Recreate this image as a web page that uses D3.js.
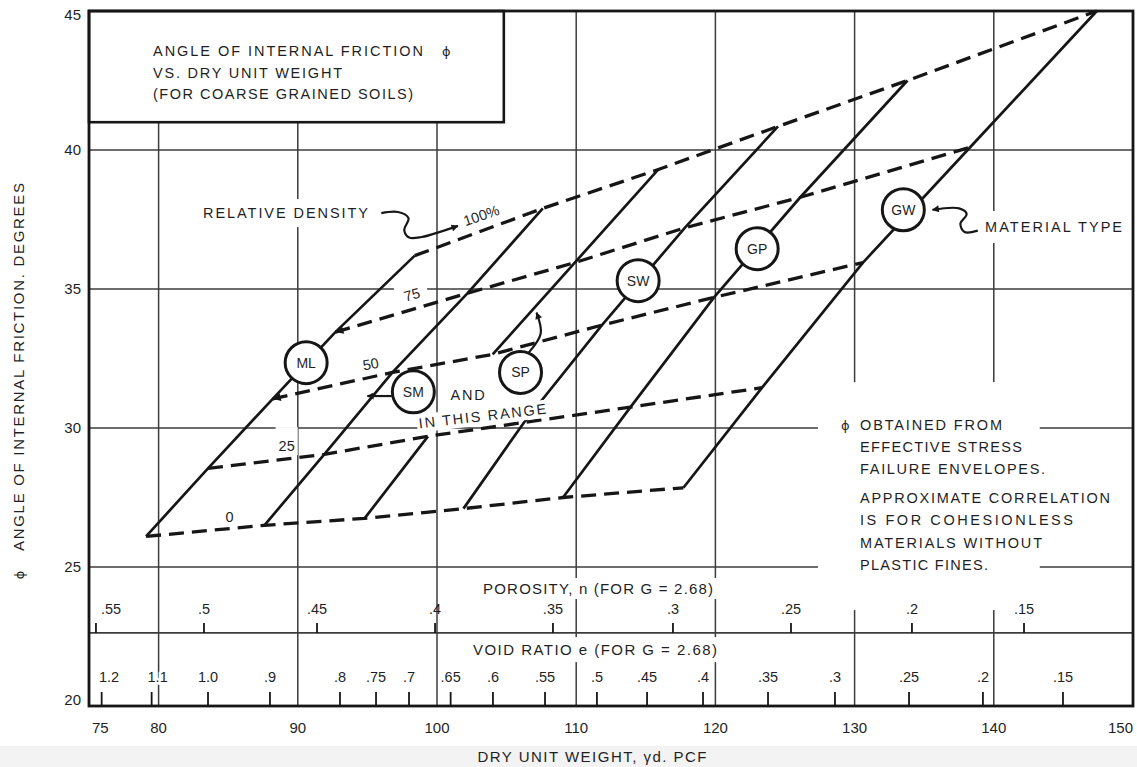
<!DOCTYPE html>
<html>
<head>
<meta charset="utf-8">
<script src="https://cdn.jsdelivr.net/npm/d3@7"></script>
<style>
  html, body { margin: 0; padding: 0; background: #ffffff; }
  svg { display: block; font-family: "Liberation Sans", Arial, Helvetica, sans-serif; }
  .phi { font-family: "DejaVu Sans", sans-serif; }
</style>
</head>
<body>
<svg id="chart" width="1137" height="767"></svg>
<script>
// ---------------- data ----------------
const materials = ["ML", "SM", "SP", "SW", "GP", "GW"];
const densityLevels = ["0", "25", "50", "75", "100%"];

// dry unit weight (pcf) at relative density 0, 25, 50, 75, 100 %
const weightML = [79.1, 83.55, 88.2, 92.7, 98.4];
const weightSM = [87.6, 91.9, 96.8, 102.2, 107.6];
const weightSP = [94.8, 99.35, 104.0, 109.9, 115.9];
const weightSW = [101.9, 106.25, 111.85, 117.8, 124.5];
const weightGP = [109.05, 113.9, 119.9, 126.1, 133.8];
const weightGW = [117.7, 123.35, 130.6, 138.3, 147.4];

// angle of internal friction (deg) at relative density 0, 25, 50, 75, 100 %
const phiML = [26.1, 28.55, 31.05, 33.45, 36.2];
const phiSM = [26.5, 29.05, 32.0, 34.85, 37.9];
const phiSP = [26.75, 29.7, 32.65, 35.95, 39.3];
const phiSW = [27.1, 30.2, 33.7, 37.2, 40.85];
const phiGP = [27.5, 30.75, 34.7, 38.3, 42.5];
const phiGW = [27.85, 31.45, 35.95, 40.1, 45.0];

// axis ticks
const weightTicks = [75, 80, 90, 100, 110, 120, 130, 140, 150];
const weightGrid = [80, 90, 100, 110, 120, 130, 140];
const phiTicks = [20, 25, 30, 35, 40, 45];

// porosity n and void ratio e scales (G = 2.68), placed along dry unit weight
const porosityLabels = [".55", ".5", ".45", ".4", ".35", ".3", ".25", ".2", ".15"];
const porosityAtWeight = [75.5, 83.26, 91.38, 99.86, 108.33, 116.95, 125.43, 134.12, 142.17];
const voidLabels = ["1.2", "1.1", "1.0", ".9", ".8", ".75", ".7", ".65", ".6", ".55", ".5", ".45", ".4", ".35", ".3", ".25", ".2", ".15"];
const voidAtWeight = [75.91, 79.5, 83.55, 88.0, 93.03, 95.62, 97.99, 100.98, 104.02, 107.76, 111.49, 115.09, 119.11, 123.78, 128.59, 133.91, 139.22, 144.97];

// ---------------- annotation anchors (pcf, deg) ----------------
const codeAnchors = [[90.6, 32.35], [98.3, 31.3], [106.0, 32.0], [114.45, 35.3], [123.0, 36.45], [133.5, 37.85]];
const densityTagAnchors = [[85.1, 26.8], [89.2, 29.35], [95.3, 32.3], [98.3, 34.8], [103.3, 37.65]];
const densityTagAngles = [0, 0, -10, -15, -19];

// ---------------- layout ----------------
const svg = d3.select("#chart");
const x = d3.scaleLinear().domain([75, 150]).range([89, 1133]);
const y = d3.scaleLinear().domain([20, 45]).range([706, 11]);

const INK = "#161616";
const GRID = "#3c3c3c";
const TEXT = "#1f1f1f";

const table = materials.map((code, i) => ({
  code,
  weight: [weightML, weightSM, weightSP, weightSW, weightGP, weightGW][i],
  phi: [phiML, phiSM, phiSP, phiSW, phiGP, phiGW][i],
  anchor: codeAnchors[i]
}));

const defs = svg.append("defs");
defs.append("marker")
  .attr("id", "head")
  .attr("viewBox", "0 0 10 10")
  .attr("refX", 9).attr("refY", 5)
  .attr("markerWidth", 10).attr("markerHeight", 7)
  .attr("markerUnits", "userSpaceOnUse")
  .attr("orient", "auto")
  .append("path").attr("d", "M0,0 L10,5 L0,10 z").attr("fill", INK);
defs.append("marker")
  .attr("id", "tail")
  .attr("viewBox", "0 0 10 10")
  .attr("refX", 10).attr("refY", 5)
  .attr("markerWidth", 11).attr("markerHeight", 8)
  .attr("markerUnits", "userSpaceOnUse")
  .attr("orient", "auto-start-reverse")
  .append("path").attr("d", "M0,0 L10,5 L0,10 z").attr("fill", INK);

// page background and the pale strip at the bottom edge
svg.append("rect").attr("width", 1137).attr("height", 767).attr("fill", "#ffffff");
svg.append("rect").attr("x", 0).attr("y", 746).attr("width", 1137).attr("height", 21).attr("fill", "#f3f3f3");

// text helper with a white knock-out box behind it; pad = [side, top, bottom]
function label(parent, str, opts) {
  const g = parent.append("g")
    .attr("transform", `translate(${opts.x},${opts.y}) rotate(${opts.angle || 0})`);
  const bg = g.append("rect").attr("fill", "#ffffff");
  const t = g.append("text")
    .attr("x", 0).attr("y", 0)
    .attr("fill", TEXT)
    .attr("font-size", opts.size || 14)
    .attr("text-anchor", opts.anchor || "start")
    .text(str);
  if (opts.length) t.attr("textLength", opts.length).attr("lengthAdjust", "spacing");
  if (opts.knock) {
    const b = t.node().getBBox();
    const p = opts.pad || [3, 2, 2];
    bg.attr("x", b.x - p[0]).attr("y", b.y - p[1])
      .attr("width", b.width + 2 * p[0]).attr("height", b.height + p[1] + p[2]);
  } else {
    bg.remove();
  }
  return g;
}

// ---------------- grid ----------------
const grid = svg.append("g");
grid.selectAll("line.v").data(weightGrid).join("line")
  .attr("x1", d => x(d)).attr("x2", d => x(d))
  .attr("y1", y(45)).attr("y2", y(20))
  .attr("stroke", GRID).attr("stroke-width", 1.5);
grid.selectAll("line.h").data(phiTicks.filter(d => d > 20 && d < 45)).join("line")
  .attr("x1", x(75)).attr("x2", x(150))
  .attr("y1", d => y(d)).attr("y2", d => y(d))
  .attr("stroke", GRID).attr("stroke-width", 1.5);

// porosity base line
const porosityBase = y(22.63);
grid.append("line")
  .attr("x1", x(75)).attr("x2", x(150))
  .attr("y1", porosityBase).attr("y2", porosityBase)
  .attr("stroke", GRID).attr("stroke-width", 1.7);

// knock-out for the note block
grid.append("rect")
  .attr("x", x(127.37)).attr("y", y(31.65))
  .attr("width", x(143.3) - x(127.37)).attr("height", y(23.45) - y(31.65))
  .attr("fill", "#ffffff");

// ---------------- porosity and void ratio scales ----------------
const scales = svg.append("g");
scales.selectAll("line.pt").data(porosityAtWeight).join("line")
  .attr("x1", d => x(d)).attr("x2", d => x(d))
  .attr("y1", porosityBase).attr("y2", porosityBase - 10)
  .attr("stroke", INK).attr("stroke-width", 1.8);
scales.selectAll("text.pl").data(porosityLabels).join("text")
  .attr("x", (d, i) => Math.max(x(porosityAtWeight[i]), x(75) + 22))
  .attr("y", porosityBase - 19)
  .attr("text-anchor", "middle")
  .attr("font-size", 14.5).attr("fill", TEXT)
  .text(d => d);

scales.selectAll("line.vt").data(voidAtWeight).join("line")
  .attr("x1", d => x(d)).attr("x2", d => x(d))
  .attr("y1", y(20)).attr("y2", y(20) - 14)
  .attr("stroke", INK).attr("stroke-width", 1.8);
scales.selectAll("text.vl").data(voidLabels).join("text")
  .attr("x", (d, i) => Math.max(x(voidAtWeight[i]), x(75) + 20) + (i === 1 ? 6 : 0))
  .attr("y", y(20) - 24)
  .attr("text-anchor", "middle")
  .attr("font-size", 14.5).attr("fill", TEXT)
  .attr("stroke", "#ffffff").attr("stroke-width", 5).attr("paint-order", "stroke")
  .text(d => d);

label(scales, "POROSITY, n (FOR G = 2.68)", { x: x(111.57), y: y(24.03), anchor: "middle", length: 230, size: 15, knock: true, pad: [5, 2, 2] });
label(scales, "VOID RATIO e (FOR G = 2.68)", { x: x(111.35), y: y(21.83), anchor: "middle", length: 244, size: 15, knock: true, pad: [5, 4, 4] });

// ---------------- relative density curves (dashed) ----------------
const line = d3.line().x(d => x(d[0])).y(d => y(d[1]));
const tags = svg.append("g");
const curves = svg.append("g");

// density tags sit under the curves so their knock-outs only clear the grid
densityLevels.forEach((lev, k) => {
  const a = densityTagAnchors[k];
  label(tags, lev, {
    x: x(a[0]), y: y(a[1]) + 5, angle: densityTagAngles[k], anchor: "middle",
    size: 14.5, knock: lev === "75" || lev === "25",
    pad: lev === "75" ? [8, 3, 3] : [3, 11, 1]
  });
});

densityLevels.forEach((lev, k) => {
  const pts = table.map(t => [t.weight[k], t.phi[k]]);
  const p = curves.append("path")
    .attr("d", line(pts))
    .attr("fill", "none")
    .attr("stroke", INK)
    .attr("stroke-width", 3.3)
    .attr("stroke-dasharray", "15 8");
  // the middle curves start with an arrowhead on the ML line
  if (lev === "50" || lev === "75") p.attr("marker-start", "url(#tail)");
});

// ---------------- material lines (solid) ----------------
const mats = svg.append("g");
table.forEach(t => {
  const pts = t.weight.map((w, k) => [w, t.phi[k]]);
  // the SP line is interrupted between Dr = 25 and 50 % where its note sits
  const breakAfter = t.code === "SP" ? [1] : [];
  const runs = [[pts[0]]];
  for (let k = 1; k < pts.length; k++) {
    if (breakAfter.includes(k - 1)) runs.push([pts[k]]);
    else runs[runs.length - 1].push(pts[k]);
  }
  runs.forEach(r => {
    mats.append("path")
      .attr("d", line(r))
      .attr("fill", "none")
      .attr("stroke", INK)
      .attr("stroke-width", 2.7);
  });
});

// notes inside the chart
const notes = svg.append("g");
label(notes, "AND", { x: x(102.2), y: y(31.0), anchor: "middle", size: 14.5, length: 34, knock: true, pad: [2, 1, 1] });
label(notes, "IN THIS RANGE", { x: x(103.3), y: y(30.25), angle: -6.7, anchor: "middle", size: 14.5, length: 128, knock: true, pad: [2, 1, 1] });

// circled material codes
const codes = svg.append("g");
table.forEach(t => {
  const cx = x(t.anchor[0]), cy = y(t.anchor[1]);
  codes.append("circle")
    .attr("cx", cx).attr("cy", cy).attr("r", 21)
    .attr("fill", "#ffffff").attr("stroke", INK).attr("stroke-width", 3);
  codes.append("text")
    .attr("x", cx).attr("y", cy + 5)
    .attr("text-anchor", "middle")
    .attr("font-size", 14).attr("fill", TEXT)
    .text(t.code);
});

// pointer arrows
const curvy = d3.line().x(d => x(d[0])).y(d => y(d[1])).curve(d3.curveCatmullRom.alpha(0.5));
const arrows = svg.append("g").attr("fill", "none").attr("stroke", INK).attr("stroke-width", 2.2);
arrows.append("path")   // SM -> its line
  .attr("d", line([[96.75, 31.15], [95.0, 31.15]]))
  .attr("marker-end", "url(#head)");
arrows.append("path")   // SP -> its line
  .attr("d", curvy([[106.6, 32.72], [107.45, 33.4], [107.15, 34.15]]))
  .attr("marker-end", "url(#head)");

// "RELATIVE DENSITY" call-out
label(notes, "RELATIVE DENSITY", { x: x(83.19), y: y(37.55), size: 14.5, length: 165, knock: true, pad: [2, 6, 6] });
arrows.append("path")
  .attr("d", curvy([[96.0, 37.73], [97.2, 37.77], [97.95, 37.55], [97.65, 37.12], [98.0, 36.85], [98.9, 36.87], [101.5, 37.27]]))
  .attr("marker-end", "url(#head)");

// "MATERIAL TYPE" call-out
label(notes, "MATERIAL TYPE", { x: x(139.37), y: y(37.05), size: 14.5, length: 137, knock: true, pad: [4, 8, 8] });
arrows.append("path")
  .attr("d", curvy([[138.85, 37.1], [137.9, 37.05], [137.6, 37.35], [138.05, 37.7], [137.5, 37.9], [135.6, 37.85]]))
  .attr("marker-end", "url(#head)");

// note block on the right
const noteLines = ["OBTAINED FROM", "EFFECTIVE STRESS", "FAILURE ENVELOPES.", "APPROXIMATE CORRELATION", "IS FOR COHESIONLESS", "MATERIALS WITHOUT", "PLASTIC FINES."];
const noteLengths = [142, 162, 185, 250, 213, 182, 128];
const noteOffsets = [0, 22.5, 44, 73, 95.5, 118, 140];
const noteX = x(130.39), noteY = y(29.93);
notes.append("rect")
  .attr("x", noteX - 4).attr("y", noteY + 58)
  .attr("width", 262).attr("height", 44)
  .attr("fill", "#ffffff");
notes.append("text")
  .attr("class", "phi")
  .attr("x", noteX - 19).attr("y", noteY)
  .attr("font-size", 13).attr("fill", TEXT)
  .text("\u03D5");
noteLines.forEach((s, i) => {
  notes.append("text")
    .attr("x", noteX).attr("y", noteY + noteOffsets[i])
    .attr("font-size", 14.5).attr("fill", TEXT)
    .attr("textLength", noteLengths[i]).attr("lengthAdjust", "spacing")
    .text(s);
});

// ---------------- title box ----------------
const box = svg.append("g");
box.append("rect")
  .attr("x", x(75)).attr("y", y(45))
  .attr("width", x(104.8) - x(75)).attr("height", y(41) - y(45))
  .attr("fill", "#ffffff").attr("stroke", INK).attr("stroke-width", 2.6);
const tx = x(75) + 64;
[["ANGLE OF INTERNAL FRICTION", 45, 270], ["VS. DRY UNIT WEIGHT", 67, 189], ["(FOR COARSE GRAINED SOILS)", 88, 260]]
  .forEach(([s, dy, len]) => {
    box.append("text")
      .attr("x", tx).attr("y", y(45) + dy)
      .attr("font-size", 14.5).attr("fill", TEXT)
      .attr("textLength", len).attr("lengthAdjust", "spacing")
      .text(s);
  });
box.append("text")
  .attr("class", "phi")
  .attr("x", tx + 289).attr("y", y(45) + 45)
  .attr("font-size", 13).attr("fill", TEXT)
  .text("\u03D5");

// ---------------- frame and axes ----------------
svg.append("rect")
  .attr("x", x(75)).attr("y", y(45))
  .attr("width", x(150) - x(75)).attr("height", y(20) - y(45))
  .attr("fill", "none").attr("stroke", INK).attr("stroke-width", 2.8);

svg.append("g").selectAll("text").data(phiTicks).join("text")
  .attr("x", x(75) - 8)
  .attr("y", d => Math.min(Math.max(y(d), 15), 700) + 5)
  .attr("text-anchor", "end")
  .attr("font-size", 15).attr("fill", TEXT)
  .text(d => d);

svg.append("g").selectAll("text").data(weightTicks).join("text")
  .attr("x", (d, i) => x(d) + (i === 0 ? 3 : 0))
  .attr("y", y(20) + 27)
  .attr("text-anchor", (d, i) => i === 0 ? "start" : (i === weightTicks.length - 1 ? "end" : "middle"))
  .attr("font-size", 15).attr("fill", TEXT)
  .text(d => d);

svg.append("text")
  .attr("x", 592).attr("y", 762)
  .attr("text-anchor", "middle")
  .attr("font-size", 15).attr("fill", TEXT)
  .attr("textLength", 229).attr("lengthAdjust", "spacing")
  .text("DRY UNIT WEIGHT, \u03B3d. PCF");

svg.append("text")
  .attr("transform", "translate(24,367) rotate(-90)")
  .attr("text-anchor", "middle")
  .attr("font-size", 15).attr("fill", TEXT)
  .attr("textLength", 368).attr("lengthAdjust", "spacing")
  .text("ANGLE OF INTERNAL FRICTION. DEGREES");
svg.append("text")
  .attr("class", "phi")
  .attr("transform", "translate(24,575) rotate(-90)")
  .attr("text-anchor", "middle")
  .attr("font-size", 13).attr("fill", TEXT)
  .text("\u03D5");
</script>
</body>
</html>
